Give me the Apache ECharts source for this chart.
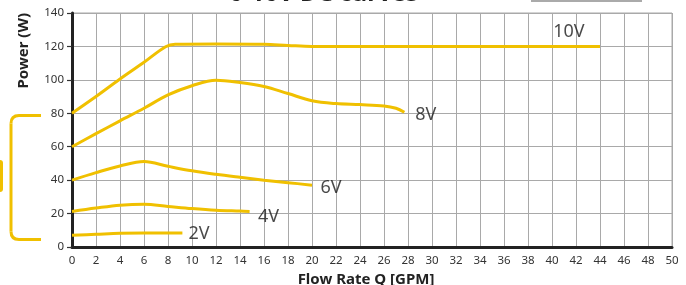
<!DOCTYPE html>
<html>
<head>
<meta charset="utf-8">
<script src="https://cdn.jsdelivr.net/npm/echarts@6/dist/echarts.min.js"></script>
<style>
    html, body { margin: 0; padding: 0; background: #fff; }
    #chart { width: 686px; height: 285px; }
</style>
</head>
<body>
<div id="chart"></div>
<script>
// curves: [flow GPM, power W]
const v10 = [[0, 80], [2, 90], [4, 100.5], [6, 110.5], [7.8, 119.8], [8.6, 121.3], [12, 121.5], [16, 121.3], [18, 120.6], [20, 120], [30, 120], [44, 120]];
const v8 = [[0, 60], [2, 67.8], [4, 75.5], [6, 83], [8, 91], [10, 96.5], [12, 99.8], [14, 98.4], [16, 96], [18, 91.8], [20, 87.5], [22, 85.8], [24, 85.2], [26, 84.4], [27, 83], [27.7, 80.6]];
const v6 = [[0, 40], [2, 44.5], [4, 48.5], [6, 51.2], [8, 48.3], [10, 45.6], [12, 43.5], [14, 41.7], [16, 40], [18, 38.5], [20, 37]];
const v4 = [[0, 21.3], [2, 23.3], [4, 25], [6, 25.6], [8, 24.3], [10, 23], [12, 22], [14, 21.5], [14.8, 21.3]];
const v2 = [[0, 7], [2, 7.6], [4, 8.2], [6, 8.4], [9.2, 8.4]];

const curveNames = ['10V', '8V', '6V', '4V', '2V'];
const curves = [v10, v8, v6, v4, v2];
// where each voltage label sits (left edge, middle)
const labelPoints = [[40.1, 128.8], [28.6, 79], [20.7, 35.3], [15.5, 18], [9.7, 7.6]];

const yellow = '#f0c000';
const gridGray = '#a9a9a9';

var chart = echarts.init(document.getElementById('chart'));

let series = curves.map(function (d, i) {
    return {
        name: curveNames[i],
        type: 'line',
        data: d,
        smooth: 0.35,
        showSymbol: false,
        lineStyle: { color: yellow, width: 3 },
        z: 3,
    };
});
series.push({
    type: 'scatter',
    symbolSize: 0,
    data: labelPoints.map(function (p, i) {
        return { value: p, name: curveNames[i] };
    }),
    label: {
        show: true,
        position: 'right',
        distance: 0,
        formatter: '{b}',
        fontFamily: 'Noto Sans',
        fontSize: 18,
        color: '#1a1a1a',
    },
    z: 4,
});

let bracket = { fill: 'none', stroke: yellow, lineWidth: 3 };

let option = {
    animation: false,
    grid: { left: 72, right: 14, top: 13, bottom: 38, outerBoundsMode: 'none' },
    xAxis: {
        type: 'value',
        min: 0,
        max: 50,
        interval: 2,
        name: 'Flow Rate Q [GPM]',
        nameLocation: 'middle',
        nameGap: 22,
        nameTextStyle: { fontFamily: 'Noto Sans', fontWeight: 'bold', fontSize: 15, color: '#222', padding: [0, 12, 0, 0] },
        axisLine: { show: true, lineStyle: { color: '#222', width: 3 } },
        axisTick: { show: false },
        axisLabel: { fontFamily: 'Noto Sans', fontSize: 11.5, color: '#333', margin: 8 },
        splitLine: { show: true, lineStyle: { color: gridGray, width: 1 } },
    },
    yAxis: {
        type: 'value',
        min: 0,
        max: 140,
        interval: 20,
        name: 'Power (W)',
        nameLocation: 'end',
        nameRotate: 90,
        nameGap: 0,
        nameTextStyle: { fontFamily: 'Noto Sans', fontWeight: 'bold', fontSize: 15, color: '#222', align: 'right', verticalAlign: 'bottom', padding: [0, 0, 41, 0] },
        axisLine: { show: true, lineStyle: { color: '#222', width: 3 } },
        axisTick: { show: true, length: 5, lineStyle: { color: '#333', width: 1.2 } },
        axisLabel: { fontFamily: 'Noto Sans', fontSize: 11.5, color: '#333', margin: 8 },
        splitLine: { show: true, lineStyle: { color: gridGray, width: 1 } },
    },
    graphic: [
        {
            type: 'rect',
            shape: { x: 72, y: 13, width: 600, height: 234 },
            style: { fill: 'none', stroke: gridGray, lineWidth: 1 },
            silent: true,
            z: 0,
        },
        { type: 'line', shape: { x1: 19, y1: 115.5, x2: 41, y2: 115.5 }, style: bracket },
        { type: 'bezierCurve', shape: { x1: 11, y1: 123.5, cpx1: 11, cpy1: 115.5, x2: 19, y2: 115.5 }, style: bracket },
        { type: 'line', shape: { x1: 11, y1: 123.5, x2: 11, y2: 231.5 }, style: bracket },
        { type: 'bezierCurve', shape: { x1: 11, y1: 231.5, cpx1: 11, cpy1: 239.5, x2: 19, y2: 239.5 }, style: bracket },
        { type: 'line', shape: { x1: 19, y1: 239.5, x2: 41, y2: 239.5 }, style: bracket },
        {
            type: 'rect',
            shape: { x: -4, y: 160, width: 7, height: 32, r: 3 },
            style: { fill: yellow },
        },
        {
            type: 'rect',
            shape: { x: 532, y: -20, width: 109, height: 21 },
            style: { fill: 'none', stroke: '#aaa', lineWidth: 2 },
        },
        {
            type: 'text',
            x: 418,
            y: 6,
            style: {
                text: '0-10V DC curves',
                fontFamily: 'Noto Sans',
                fontWeight: 'bold',
                fontSize: 24,
                fill: '#222',
                align: 'right',
                verticalAlign: 'bottom',
            },
        },
    ],
    series: series,
};
chart.setOption(option);
</script>
</body>
</html>
